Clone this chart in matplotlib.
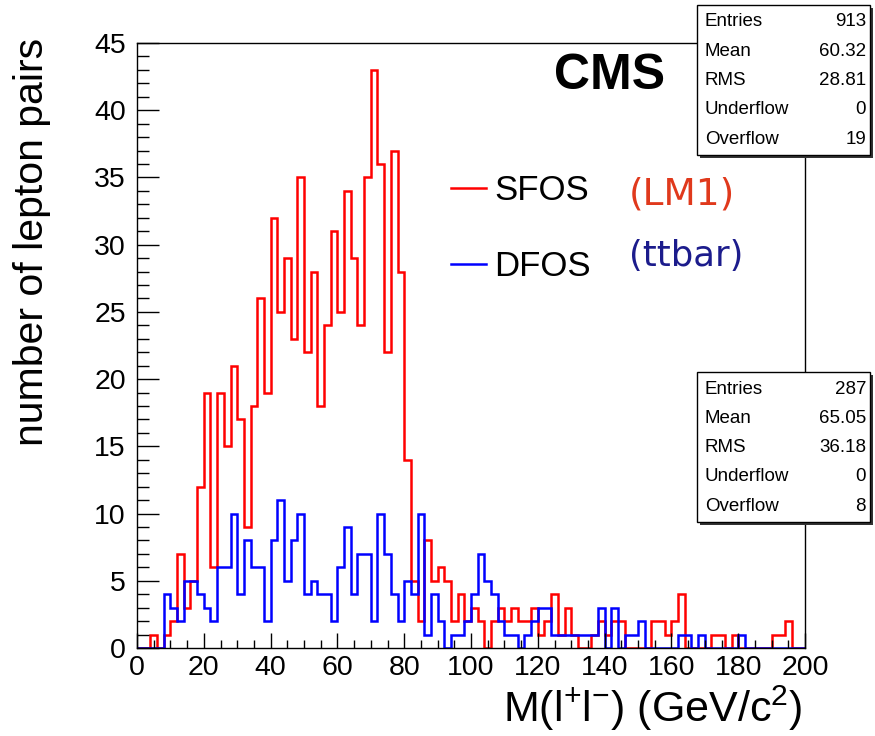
import numpy as np
import matplotlib
matplotlib.use('Agg')
import matplotlib.pyplot as plt
from matplotlib.patches import Rectangle
from matplotlib.lines import Line2D
from matplotlib.ticker import MultipleLocator

plt.rcParams['font.family'] = ['Liberation Sans', 'DejaVu Sans']
plt.rcParams['mathtext.fontset'] = 'custom'
plt.rcParams['mathtext.rm'] = 'Liberation Sans'
plt.rcParams['mathtext.it'] = 'Liberation Sans:italic'

# 2 GeV/c^2 bins from 0 to 200
bin_edges = np.arange(0, 202, 2)

# same flavour opposite sign pairs (LM1)
sfos_counts = [
    0, 0, 1, 0, 1, 2, 7, 3, 5, 12,
    19, 6, 19, 15, 21, 17, 9, 18, 26, 19,
    32, 25, 29, 23, 35, 22, 28, 18, 24, 31,
    25, 34, 29, 24, 35, 43, 36, 22, 37, 28,
    14, 5, 2, 8, 5, 6, 5, 2, 4, 2,
    3, 2, 0, 2, 3, 2, 3, 2, 2, 3,
    1, 2, 4, 1, 3, 1, 0, 0, 1, 2,
    1, 2, 2, 0, 0, 0, 0, 2, 2, 1,
    2, 4, 0, 0, 0, 0, 1, 1, 0, 1,
    0, 0, 0, 0, 0, 1, 1, 2, 0, 0,
]

# different flavour opposite sign pairs (ttbar)
dfos_counts = [
    0, 0, 0, 0, 4, 3, 2, 5, 5, 4,
    3, 2, 6, 6, 10, 4, 8, 6, 6, 2,
    8, 11, 5, 8, 10, 4, 5, 4, 4, 2,
    6, 9, 4, 7, 7, 2, 10, 7, 4, 2,
    5, 4, 10, 1, 4, 2, 0, 1, 1, 2,
    4, 7, 5, 4, 2, 1, 1, 0, 1, 2,
    3, 3, 1, 1, 1, 1, 1, 1, 1, 3,
    0, 3, 0, 1, 1, 2, 0, 0, 0, 0,
    0, 1, 1, 0, 1, 0, 0, 0, 0, 0,
    1, 0, 0, 0, 0, 0, 0, 0, 0, 0,
]

stat_names = ['Entries', 'Mean', 'RMS', 'Underflow', 'Overflow']
sfos_stats = ['913', '60.32', '28.81', '0', '19']
dfos_stats = ['287', '65.05', '36.18', '0', '8']

W, H = 875, 736


def fx(x):
    return x / W


def fy(y):
    return 1 - y / H


fig = plt.figure(figsize=(W / 100, H / 100), dpi=100)
ax = fig.add_axes([fx(137), fy(648), fx(805) - fx(137), fy(43) - fy(648)])

ax.stairs(sfos_counts, bin_edges, color='#ff0000', lw=1.8, baseline=0)
ax.stairs(dfos_counts, bin_edges, color='#0000ff', lw=1.8, baseline=0)

ax.set_xlim(0, 200)
ax.set_ylim(0, 45)
ax.xaxis.set_major_locator(MultipleLocator(20))
ax.xaxis.set_minor_locator(MultipleLocator(5))
ax.yaxis.set_major_locator(MultipleLocator(5))
ax.yaxis.set_minor_locator(MultipleLocator(1))
ax.tick_params(axis='both', which='both', direction='in', top=False, right=False,
               width=1.0, labelsize=20.5)
ax.tick_params(axis='y', which='major', length=16, pad=8)
ax.tick_params(axis='y', which='minor', length=8.5)
ax.tick_params(axis='x', which='major', length=11, pad=5)
ax.tick_params(axis='x', which='minor', length=6)
for s in ax.spines.values():
    s.set_linewidth(1.0)

fig.text(fx(32), fy(38), 'number of lepton pairs', rotation=90, ha='center', va='top',
         fontsize=29.5)
fig.text(fx(802), fy(708), r'M(l$^{+}$l$^{-}$) (GeV/c$^{2}$)', ha='right', va='center',
         fontsize=31)

fig.text(fx(554), fy(76), 'CMS', fontweight='bold', fontsize=36, va='center')

handles = [Line2D([], [], color='#ff0000', lw=1.8), Line2D([], [], color='#0000ff', lw=1.8)]
ax.legend(handles, ['SFOS', 'DFOS'], loc='upper left',
          bbox_to_anchor=(fx(451), fy(174)), bbox_transform=fig.transFigure,
          frameon=False, fontsize=25, handlelength=1.0, handletextpad=0.25,
          labelspacing=1.25, borderpad=0, borderaxespad=0)

fig.text(fx(629), fy(194), '(LM1)', color='#e0391c', fontsize=27, va='center',
         family='DejaVu Sans')
fig.text(fx(629), fy(256), '(ttbar)', color='#1c1c8c', fontsize=25.5, va='center',
         family='DejaVu Sans')


def stats_box(top, values):
    x0, x1 = 697, 870
    y1 = top + 150
    shadow = Rectangle((fx(x0 + 3), fy(y1 + 3)), fx(x1) - fx(x0), fy(top) - fy(y1),
                       transform=fig.transFigure, facecolor='#333333', edgecolor='none',
                       zorder=10)
    box = Rectangle((fx(x0), fy(y1)), fx(x1) - fx(x0), fy(top) - fy(y1),
                    transform=fig.transFigure, facecolor='white', edgecolor='black',
                    lw=1.0, zorder=11)
    fig.patches.extend([shadow, box])
    for k, (name, val) in enumerate(zip(stat_names, values)):
        yy = top + 17 + 29.3 * k
        fig.text(fx(x0 + 8), fy(yy), name, fontsize=13.5, va='center', zorder=12)
        fig.text(fx(x1 - 4), fy(yy), val, fontsize=13.5, va='center', ha='right', zorder=12)


stats_box(5, sfos_stats)
stats_box(372, dfos_stats)

fig.savefig('out.png', dpi=100)
